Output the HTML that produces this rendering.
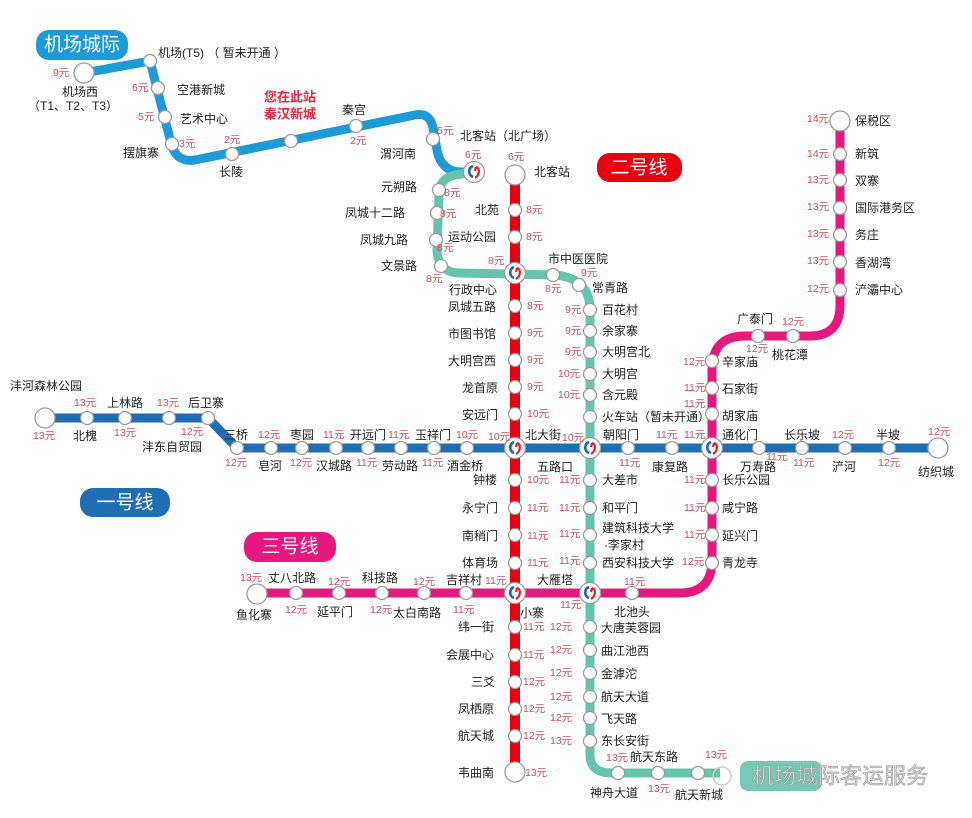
<!DOCTYPE html>
<html><head><meta charset="utf-8"><style>
html,body{margin:0;padding:0;background:#fff}
svg{display:block}
text{font-family:"Liberation Sans","Noto Sans CJK SC",sans-serif;dominant-baseline:central}
.s{font-size:12px;fill:#222}
.p{font-size:10.5px;fill:#c8505c}
.st{fill:#fff;stroke:#9a9a9a;stroke-width:1.3}
.b{font-size:19px;fill:#fff;text-anchor:middle}
</style></head><body>
<svg width="972" height="818" viewBox="0 0 972 818" xmlns="http://www.w3.org/2000/svg">
<defs>
<g id="ic"><circle r="10.5" fill="#fff" stroke="#9a9a9a" stroke-width="1.3"/><path d="M-1,-6 C-6,-4 -6,3 -1,5" fill="none" stroke="#2060c0" stroke-width="2.6"/><path d="M1,6 C6,3 6,-4 2,-5 M2,-5 l-1,4 M2,-5 l3,2" fill="none" stroke="#e02020" stroke-width="2.2"/></g>
</defs>
<!-- badges -->
<rect x="36" y="30" width="92" height="30" rx="13" fill="#1e9bd7"/><text x="82" y="45" class="b">机场城际</text>
<rect x="597" y="153" width="85" height="29" rx="13" fill="#e60012"/><text x="639" y="168" class="b">二号线</text>
<rect x="80" y="488" width="90" height="29" rx="13" fill="#1f6db3"/><text x="125" y="503" class="b">一号线</text>
<rect x="244" y="532" width="92" height="30" rx="13" fill="#e5187f"/><text x="290" y="547" class="b">三号线</text>

<!-- lines -->
<g fill="none" stroke-width="9" stroke-linejoin="round">
<path d="M84,73 L150,61 L171,143 Q176,163 195,160 L415,115 Q430,112 433,128 L437,150 Q441,172 462,172 L474,172" stroke="#1e9bd7"/>
<path d="M474,172 L455,175 Q439,178 439,195 L437,250 Q438,273 460,273 L555,275 Q590,278 590,310 L590,755 Q590,773 612,773 L720,773" stroke="#66c3ae"/>
<path d="M515,175 L515,772" stroke="#e60012" stroke-width="10"/>
<path d="M45,418 L208,418 L237,448 L938,448" stroke="#1f6db3"/>
<path d="M256,593 L680,593 Q712,593 712,560 L712,370 Q712,336 745,336 L810,336 Q840,336 840,305 L840,121" stroke="#e5187f"/>
</g>

<!-- station circles -->
<g class="st">
<circle cx="84" cy="73" r="10"/><circle cx="150" cy="61" r="6.5"/><circle cx="158" cy="88" r="6.5"/><circle cx="165" cy="117" r="6.5"/><circle cx="172" cy="144" r="6.5"/><circle cx="232" cy="154" r="6.5"/><circle cx="291" cy="141" r="6.5"/><circle cx="356" cy="126" r="6.5"/><circle cx="433" cy="139" r="6.5"/>
<circle cx="439" cy="190" r="6.5"/><circle cx="437" cy="213" r="6.5"/><circle cx="436" cy="240" r="6.5"/><circle cx="441" cy="266" r="6.5"/><circle cx="553" cy="275" r="6.5"/><circle cx="579" cy="285" r="6.5"/>
<circle cx="590" cy="310" r="6.5"/><circle cx="590" cy="331" r="6.5"/><circle cx="590" cy="352" r="6.5"/><circle cx="590" cy="374" r="6.5"/><circle cx="590" cy="395" r="6.5"/><circle cx="590" cy="417" r="6.5"/>
<circle cx="590" cy="480" r="6.5"/><circle cx="590" cy="508" r="6.5"/><circle cx="590" cy="535" r="6.5"/><circle cx="590" cy="563" r="6.5"/>
<circle cx="590" cy="627" r="6.5"/><circle cx="590" cy="650" r="6.5"/><circle cx="590" cy="673" r="6.5"/><circle cx="590" cy="697" r="6.5"/><circle cx="590" cy="718" r="6.5"/><circle cx="590" cy="741" r="6.5"/>
<circle cx="618" cy="773" r="6.5"/><circle cx="658" cy="773" r="6.5"/><circle cx="698" cy="773" r="6.5"/>
<circle cx="515" cy="175" r="10"/><circle cx="515" cy="210" r="6.5"/><circle cx="515" cy="237" r="6.5"/>
<circle cx="515" cy="306" r="6.5"/><circle cx="515" cy="333" r="6.5"/><circle cx="515" cy="360" r="6.5"/><circle cx="515" cy="387" r="6.5"/><circle cx="515" cy="414" r="6.5"/>
<circle cx="515" cy="480" r="6.5"/><circle cx="515" cy="508" r="6.5"/><circle cx="515" cy="535" r="6.5"/><circle cx="515" cy="563" r="6.5"/>
<circle cx="515" cy="627" r="6.5"/><circle cx="515" cy="655" r="6.5"/><circle cx="515" cy="682" r="6.5"/><circle cx="515" cy="709" r="6.5"/><circle cx="515" cy="736" r="6.5"/><circle cx="515" cy="772" r="10"/>
<circle cx="45" cy="418" r="10"/><circle cx="87" cy="418" r="6.5"/><circle cx="125" cy="418" r="6.5"/><circle cx="169" cy="418" r="6.5"/><circle cx="208" cy="418" r="6.5"/>
<circle cx="237" cy="448" r="6.5"/><circle cx="271" cy="448" r="6.5"/><circle cx="302" cy="448" r="6.5"/><circle cx="336" cy="448" r="6.5"/><circle cx="368" cy="448" r="6.5"/><circle cx="401" cy="448" r="6.5"/><circle cx="434" cy="448" r="6.5"/><circle cx="467" cy="448" r="6.5"/>
<circle cx="628" cy="448" r="6.5"/><circle cx="672" cy="448" r="6.5"/><circle cx="759" cy="448" r="6.5"/><circle cx="802" cy="448" r="6.5"/><circle cx="845" cy="448" r="6.5"/><circle cx="889" cy="448" r="6.5"/><circle cx="938" cy="448" r="10"/>
<circle cx="257" cy="594" r="10"/><circle cx="296" cy="593" r="6.5"/><circle cx="339" cy="593" r="6.5"/><circle cx="382" cy="593" r="6.5"/><circle cx="424" cy="593" r="6.5"/><circle cx="466" cy="593" r="6.5"/><circle cx="632" cy="593" r="6.5"/>
<circle cx="712" cy="563" r="6.5"/><circle cx="712" cy="535" r="6.5"/><circle cx="712" cy="508" r="6.5"/><circle cx="712" cy="480" r="6.5"/><circle cx="712" cy="414" r="6.5"/><circle cx="712" cy="388" r="6.5"/><circle cx="712" cy="361" r="6.5"/>
<circle cx="758" cy="336" r="6.5"/><circle cx="793" cy="336" r="6.5"/>
<circle cx="840" cy="290" r="6.5"/><circle cx="840" cy="262" r="6.5"/><circle cx="840" cy="235" r="6.5"/><circle cx="840" cy="208" r="6.5"/><circle cx="840" cy="180" r="6.5"/><circle cx="840" cy="154" r="6.5"/><circle cx="840" cy="121" r="10"/>
</g>
<use href="#ic" x="474" y="172"/><use href="#ic" x="515" y="273"/><use href="#ic" x="515" y="448"/><use href="#ic" x="590" y="448"/><use href="#ic" x="712" y="448"/><use href="#ic" x="515" y="593"/><use href="#ic" x="590" y="593"/>

<!-- airport labels -->
<g class="s">
<text x="62" y="92">机场西</text><text x="28" y="106">（T1、T2、T3）</text>
<text x="158" y="53">机场(T5)  （ 暂未开通 ）</text>
<text x="177" y="90">空港新城</text><text x="180" y="119">艺术中心</text><text x="123" y="153">摆旗寨</text>
<text x="219" y="172">长陵</text><text x="342" y="110">秦宫</text><text x="380" y="154">渭河南</text><text x="460" y="136">北客站（北广场）</text>
</g>
<text x="264" y="97" style="font-size:13px;font-weight:bold;fill:#e0283c">您在此站</text>
<text x="264" y="114" style="font-size:13px;font-weight:bold;fill:#e0283c">秦汉新城</text>
<g class="p">
<text x="53" y="73">9元</text><text x="132" y="88">6元</text><text x="138" y="117">5元</text><text x="179" y="144">3元</text><text x="224" y="140">2元</text><text x="350" y="141">2元</text><text x="437" y="131">5元</text><text x="465" y="155">6元</text>
</g>

<!-- line 4 / line 2 north -->
<g class="s">
<text x="381" y="187">元朔路</text><text x="345" y="213">凤城十二路</text><text x="360" y="240">凤城九路</text><text x="381" y="266">文景路</text>
<text x="475" y="210">北苑</text><text x="448" y="237">运动公园</text><text x="449" y="290">行政中心</text><text x="534" y="172">北客站</text>
<text x="548" y="259">市中医医院</text><text x="592" y="288">常青路</text>
<text x="448" y="307">凤城五路</text><text x="448" y="334">市图书馆</text><text x="448" y="361">大明宫西</text><text x="462" y="388">龙首原</text><text x="462" y="415">安远门</text>
<text x="602" y="310">百花村</text><text x="602" y="331">余家寨</text><text x="602" y="352">大明宫北</text><text x="602" y="374">大明宫</text><text x="602" y="395">含元殿</text><text x="602" y="417">火车站（暂未开通）</text>
</g>
<g class="p">
<text x="444" y="193">8元</text><text x="440" y="214">8元</text><text x="437" y="248">8元</text><text x="426" y="279">8元</text>
<text x="508" y="157">6元</text><text x="526" y="210">8元</text><text x="526" y="237">8元</text><text x="488" y="261">8元</text>
<text x="545" y="289">8元</text><text x="581" y="273">9元</text>
<text x="527" y="306">8元</text><text x="527" y="333">9元</text><text x="527" y="360">9元</text><text x="527" y="387">9元</text><text x="527" y="414">10元</text>
<text x="565" y="310">9元</text><text x="565" y="331">9元</text><text x="565" y="352">9元</text><text x="558" y="374">10元</text><text x="558" y="395">10元</text>
</g>

<!-- line 1 labels -->
<g class="s">
<text x="10" y="386">沣河森林公园</text><text x="107" y="403">上林路</text><text x="188" y="403">后卫寨</text>
<text x="73" y="436">北槐</text><text x="142" y="447">沣东自贸园</text>
<text x="224" y="435">三桥</text><text x="290" y="435">枣园</text><text x="350" y="435">开远门</text><text x="415" y="435">玉祥门</text><text x="525" y="435">北大街</text><text x="603" y="435">朝阳门</text><text x="722" y="435">通化门</text><text x="784" y="435">长乐坡</text><text x="876" y="435">半坡</text>
<text x="258" y="466">皂河</text><text x="316" y="466">汉城路</text><text x="382" y="466">劳动路</text><text x="447" y="466">酒金桥</text><text x="537" y="467">五路口</text><text x="652" y="467">康复路</text><text x="740" y="467">万寿路</text><text x="832" y="467">浐河</text><text x="918" y="472">纺织城</text>
</g>
<g class="p">
<text x="74" y="403">13元</text><text x="157" y="403">13元</text><text x="33" y="436">13元</text><text x="114" y="433">13元</text><text x="181" y="432">12元</text>
<text x="258" y="435">12元</text><text x="323" y="435">11元</text><text x="388" y="435">11元</text><text x="456" y="435">10元</text><text x="488" y="437">10元</text><text x="562" y="438">10元</text><text x="656" y="435">11元</text><text x="684" y="435">11元</text><text x="832" y="435">12元</text><text x="928" y="432">12元</text>
<text x="225" y="463">12元</text><text x="290" y="463">12元</text><text x="356" y="463">11元</text><text x="422" y="463">11元</text><text x="619" y="463">11元</text><text x="766" y="457">11元</text><text x="793" y="463">11元</text><text x="878" y="463">12元</text>
</g>

<!-- middle verticals -->
<g class="s">
<text x="473" y="480">钟楼</text><text x="462" y="508">永宁门</text><text x="462" y="536">南稍门</text><text x="462" y="563">体育场</text>
<text x="602" y="480">大差市</text><text x="602" y="508">和平门</text><text x="602" y="528">建筑科技大学</text><text x="604" y="545">·李家村</text><text x="602" y="563">西安科技大学</text>
<text x="722" y="480">长乐公园</text><text x="722" y="508">咸宁路</text><text x="722" y="536">延兴门</text><text x="722" y="563">青龙寺</text>
<text x="722" y="362">辛家庙</text><text x="722" y="389">石家街</text><text x="722" y="416">胡家庙</text>
<text x="737" y="319">广泰门</text><text x="772" y="355">桃花潭</text>
<text x="855" y="121">保税区</text><text x="855" y="154">新筑</text><text x="855" y="181">双寨</text><text x="855" y="208">国际港务区</text><text x="855" y="235">务庄</text><text x="855" y="263">香湖湾</text><text x="855" y="290">浐灞中心</text>
</g>
<g class="p">
<text x="527" y="480">10元</text><text x="527" y="508">11元</text><text x="527" y="536">11元</text><text x="527" y="563">11元</text>
<text x="559" y="480">11元</text><text x="559" y="508">11元</text><text x="559" y="534">11元</text><text x="559" y="561">11元</text>
<text x="684" y="480">11元</text><text x="684" y="508">11元</text><text x="684" y="535">11元</text><text x="682" y="562">12元</text>
<text x="683" y="362">12元</text><text x="684" y="388">11元</text><text x="684" y="404">11元</text>
<text x="782" y="322">12元</text><text x="746" y="349">12元</text>
<text x="807" y="119">14元</text><text x="807" y="154">14元</text><text x="807" y="180">13元</text><text x="807" y="207">13元</text><text x="807" y="234">13元</text><text x="807" y="261">13元</text><text x="807" y="289">12元</text>
</g>

<!-- line 3 and south -->
<g class="s">
<text x="268" y="578">丈八北路</text><text x="362" y="578">科技路</text><text x="446" y="580">吉祥村</text><text x="537" y="580">大雁塔</text>
<text x="236" y="615">鱼化寨</text><text x="317" y="612">延平门</text><text x="393" y="613">太白南路</text><text x="520" y="613">小寨</text><text x="614" y="612">北池头</text>
<text x="458" y="627">纬一街</text><text x="446" y="655">会展中心</text><text x="471" y="682">三爻</text><text x="458" y="709">凤栖原</text><text x="458" y="736">航天城</text><text x="458" y="773">韦曲南</text>
<text x="601" y="628">大唐芙蓉园</text><text x="601" y="651">曲江池西</text><text x="601" y="674">金滹沱</text><text x="601" y="697">航天大道</text><text x="601" y="719">飞天路</text><text x="601" y="741">东长安街</text>
<text x="630" y="757">航天东路</text><text x="590" y="793">神舟大道</text><text x="675" y="795">航天新城</text>
</g>
<g class="p">
<text x="240" y="578">13元</text><text x="328" y="582">12元</text><text x="413" y="582">12元</text><text x="485" y="581">11元</text><text x="624" y="582">11元</text>
<text x="285" y="610">12元</text><text x="370" y="610">12元</text><text x="453" y="610">11元</text><text x="560" y="605">11元</text>
<text x="523" y="627">11元</text><text x="523" y="655">11元</text><text x="523" y="682">12元</text><text x="523" y="709">12元</text><text x="523" y="736">12元</text><text x="525" y="773">13元</text>
<text x="550" y="627">12元</text><text x="550" y="650">12元</text><text x="550" y="673">12元</text><text x="550" y="697">12元</text><text x="550" y="718">12元</text><text x="550" y="741">13元</text>
<text x="606" y="758">13元</text><text x="705" y="755">13元</text><text x="648" y="789">13元</text>
</g>

<!-- watermark -->
<rect x="740" y="761" width="82" height="30" rx="8" fill="#66c3ae" opacity="0.9"/>
<circle cx="722" cy="776" r="9" fill="none" stroke="#cfcfcf" stroke-width="1.5"/>
<text x="752" y="776" style="font-size:22px;fill:#d6d6d6;stroke:#9a9a9a;stroke-width:0.6">机场城际客运服务</text>
</svg>
</body></html>
